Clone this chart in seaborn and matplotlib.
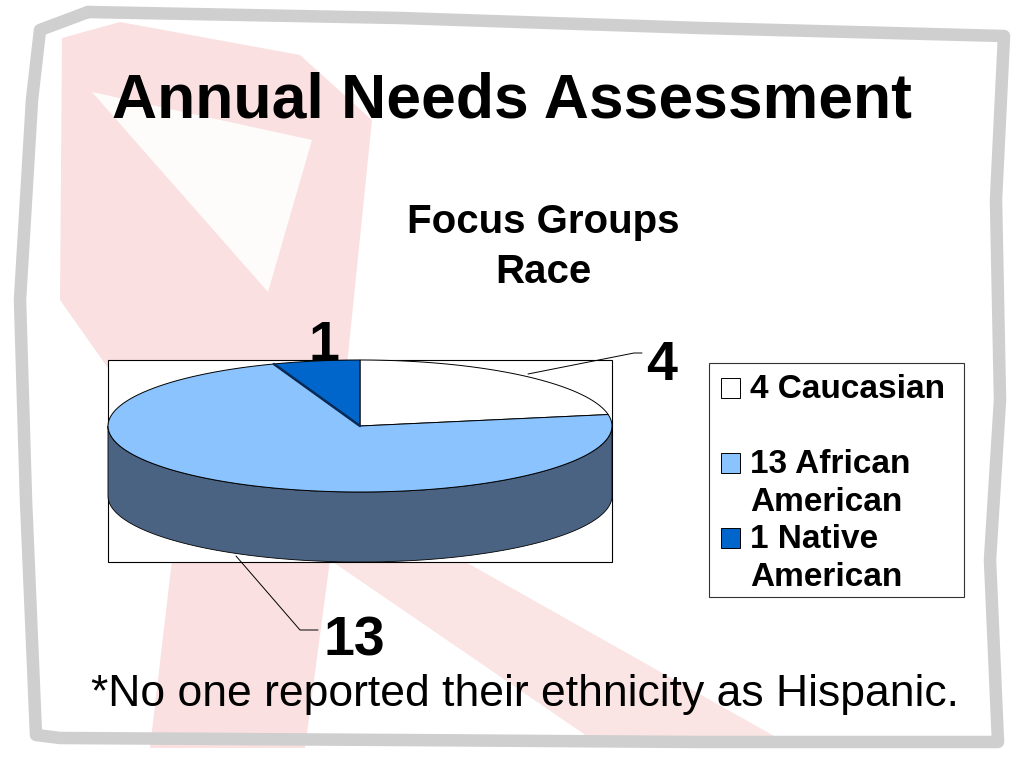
import matplotlib.pyplot as plt
import numpy as np
import seaborn as sns
from matplotlib.patches import Polygon, Rectangle


# Data
categories = ['Caucasian', 'African American', 'Native American']
counts = [4, 13, 1]
legend_labels = ['4 Caucasian', '13 African\nAmerican', '1 Native\nAmerican']
slice_colors = ['#FFFFFF', '#8BC3FF', '#0066CC']
side_color = '#4A6383'

sns.set_theme(style='white')
plt.rcParams['font.family'] = ['Liberation Sans', 'DejaVu Sans']
plt.rcParams['text.color'] = 'black'

fig = plt.figure(figsize=(10.24, 7.68), dpi=100)
ax = fig.add_axes([0, 0, 1, 1])
ax.set_xlim(0, 1024)
ax.set_ylim(768, 0)
ax.axis('off')

# Slide background: faint red ribbon and sketchy grey frame
pink = '#F4BCBC'
ax.add_patch(Polygon([(62, 38), (120, 22), (300, 55), (372, 120), (345, 385),
                      (120, 385), (60, 300)], closed=True, fc=pink, ec='none', alpha=0.45))
ax.add_patch(Polygon([(92, 92), (312, 140), (268, 292)], closed=True, fc='white', ec='none', alpha=0.9))
ax.add_patch(Polygon([(172, 560), (330, 560), (305, 748), (150, 748)], closed=True,
                     fc=pink, ec='none', alpha=0.45))
ax.add_patch(Polygon([(330, 560), (462, 560), (790, 745), (600, 745)], closed=True,
                     fc=pink, ec='none', alpha=0.4))

frame_x = [88, 400, 700, 1004, 996, 1000, 990, 998, 700, 400, 60, 36, 26, 20, 32, 40, 88]
frame_y = [12, 18, 28, 36, 200, 400, 560, 742, 742, 740, 738, 735, 500, 300, 100, 30, 12]
ax.plot(frame_x, frame_y, color='#CFCFCF', lw=9, solid_joinstyle='round', solid_capstyle='round')

# Titles
ax.text(512, 118, 'Annual Needs Assessment', ha='center', va='baseline',
        fontsize=45, fontweight='bold')
ax.text(543, 233, 'Focus Groups', ha='center', va='baseline', fontsize=29, fontweight='bold')
ax.text(543, 283, 'Race', ha='center', va='baseline', fontsize=29, fontweight='bold')

# Plot area
ax.add_patch(Rectangle((108, 360), 504, 202, fc='white', ec='black', lw=0.8))

# 3D pie geometry
cx, cy, rx, ry, depth = 360, 426, 252, 66, 70
total = sum(counts)
start = 90.0
wedges = []
for c in counts:
    span = 360.0 * c / total
    wedges.append((start - span, start))
    start -= span


def arc(t1, t2, dy=0, n=120):
    t = np.radians(np.linspace(t1, t2, n))
    return np.column_stack([cx + rx * np.cos(t), cy - ry * np.sin(t) + dy])


# side walls (front half only)
for (t1, t2), col in zip(wedges, slice_colors):
    for k in range(-2, 2):
        lo = max(t1, 180 + 360 * k)
        hi = min(t2, 360 + 360 * k)
        if hi > lo:
            top = arc(lo, hi)
            bot = arc(hi, lo, dy=depth)
            ax.add_patch(Polygon(np.vstack([top, bot]), closed=True, fc=side_color,
                                 ec='black', lw=0.6))

# top faces
for (t1, t2), col in zip(wedges, slice_colors):
    pts = np.vstack([[cx, cy], arc(t2, t1)])
    ax.add_patch(Polygon(pts, closed=True, fc=col, ec='black', lw=0.7))

# darker edge on the small slice
t_edge = np.radians(wedges[2][1])
ax.plot([cx, cx + rx * np.cos(t_edge)], [cy, cy - ry * np.sin(t_edge)], color='#0A2A55', lw=1.8)

# Data labels with leader lines
ax.plot([528, 634, 642], [374, 353, 353], color='black', lw=0.7)
ax.plot([236, 300, 318], [556, 630, 630], color='black', lw=0.7)
ax.text(662, 380, str(counts[0]), ha='center', va='baseline', fontsize=40, fontweight='bold')
ax.text(354, 656, str(counts[1]), ha='center', va='baseline', fontsize=40, fontweight='bold')
ax.text(324, 360, str(counts[2]), ha='center', va='baseline', fontsize=40, fontweight='bold')

# Legend
ax.add_patch(Rectangle((709, 363), 255, 234, fc='white', ec='#333333', lw=0.8))
legend_y = [398, 473, 548]
for lab, col, yb in zip(legend_labels, slice_colors, legend_y):
    ax.add_patch(Rectangle((721, yb - 20), 19, 20, fc=col, ec='black', lw=0.7))
    for i, line in enumerate(lab.split('\n')):
        ax.text(750, yb + 38 * i, line, ha='left', va='baseline', fontsize=24, fontweight='bold')

# Footnote
ax.text(525, 706, '*No one reported their ethnicity as Hispanic.', ha='center', va='baseline',
        fontsize=32)

fig.savefig('out.png', dpi=100)
